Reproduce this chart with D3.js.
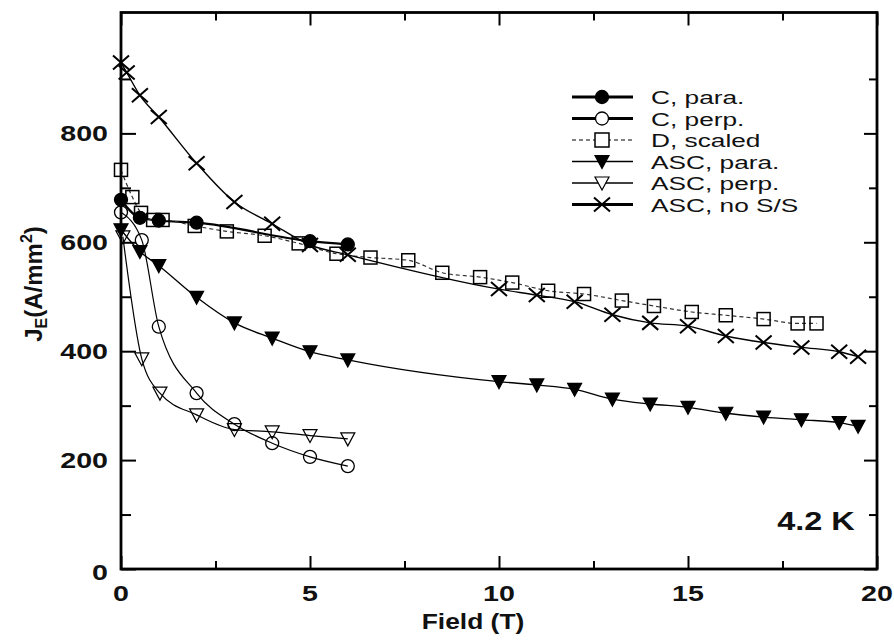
<!DOCTYPE html>
<html>
<head>
<meta charset="utf-8">
<script src="https://cdn.jsdelivr.net/npm/d3@7"></script>
<style>
  body { margin: 0; background: #fff; }
  svg text { font-family: "Liberation Sans", Arial, Helvetica, sans-serif; fill: #111; }
</style>
</head>
<body>
<svg id="chart" width="894" height="644"></svg>
<script>
// values: [field (T), J_E (A/mm2)]
const cPara = [[0, 678], [0.5, 645], [1, 640], [2, 636], [5, 602], [6, 596]]
const cPerp = [[0, 655], [0.55, 604], [1, 445], [2, 323], [3, 266], [4, 231], [5, 206], [6, 189]]
const dScaled = [[0, 733], [0.3, 683], [0.53, 654], [0.85, 641], [1.1, 641], [1.95, 630], [2.8, 620],
  [3.8, 612], [4.7, 598], [5.7, 579], [6.6, 572], [7.6, 567], [8.5, 544], [9.5, 536], [10.35, 526],
  [11.3, 511], [12.25, 505], [13.25, 493], [14.1, 483], [15.1, 472], [16, 466], [17, 459],
  [17.9, 451], [18.4, 451]]
const ascPara = [[0, 623], [0.5, 583], [1, 557], [2, 499], [3, 452], [4, 424], [5, 399], [6, 384],
  [10, 344], [11, 338], [12, 330], [13, 312], [14, 303], [15, 297], [16, 286], [17, 279],
  [18, 274], [19, 269], [19.5, 262]]
const ascPerp = [[0.05, 610], [0.55, 386], [1.03, 323], [2, 283], [3, 256], [4, 252], [5, 245], [6, 239]]
const ascNoSS = [[0, 930], [0.15, 912], [0.5, 870], [1, 830], [2, 745], [3, 674], [4, 634],
  [5, 595], [6, 577], [10, 514], [11, 503], [12, 491], [13, 467], [14, 452], [15, 446],
  [16, 428], [17, 416], [18, 407], [19, 399], [19.5, 390]]

const seriesNames = ['C, para.', 'C, perp.', 'D, scaled', 'ASC, para.', 'ASC, perp.', 'ASC, no S/S']
const xTicks = [0, 5, 10, 15, 20]
const xMinor = [2.5, 7.5, 12.5, 17.5]
const yTicks = [0, 200, 400, 600, 800]
const yMinor = [100, 300, 500, 700, 900]

const plotL = 121, plotR = 877, plotT = 12.5, plotB = 569

const x = d3.scaleLinear().domain([0, 20]).range([plotL, plotR])
const y = d3.scaleLinear().domain([0, 1022]).range([plotB, plotT])

const svg = d3.select('#chart')

// series styling
const series = [
  { name: seriesNames[0], data: cPara, marker: 'circle', fill: '#000', lw: 2.2, legLw: 3.2 },
  { name: seriesNames[1], data: cPerp, marker: 'circle', fill: 'none', lw: 1.2, legLw: 3.2 },
  { name: seriesNames[2], data: dScaled, marker: 'square', fill: 'none', lw: 1.2, legLw: 1.2, dash: '4,3' },
  { name: seriesNames[3], data: ascPara, marker: 'tri', fill: '#000', lw: 1.3, legLw: 1.5 },
  { name: seriesNames[4], data: ascPerp, marker: 'tri', fill: 'none', lw: 1.2, legLw: 1.5 },
  { name: seriesNames[5], data: ascNoSS, marker: 'cross', fill: 'none', lw: 1.4, legLw: 3.2 }
]

const line = d3.line()
  .x(d => x(d[0]))
  .y(d => y(d[1]))
  .curve(d3.curveMonotoneX)

function drawMarker(g, type, fill) {
  if (type === 'circle') {
    g.append('circle').attr('r', 6.5)
      .attr('fill', fill).attr('stroke', '#000').attr('stroke-width', 1.3)
  } else if (type === 'square') {
    g.append('rect').attr('x', -6.5).attr('y', -6.5).attr('width', 13).attr('height', 13)
      .attr('fill', fill).attr('stroke', '#000').attr('stroke-width', 1.5)
  } else if (type === 'tri') {
    g.append('path').attr('d', 'M-7,-6 L7,-6 L0,7 Z')
      .attr('fill', fill).attr('stroke', '#000').attr('stroke-width', 1.2)
  } else if (type === 'cross') {
    g.append('path').attr('d', 'M-8,-7 L8,7 M-8,7 L8,-7')
      .attr('fill', 'none').attr('stroke', '#000').attr('stroke-width', 2)
  }
}

// curves
series.forEach(s => {
  svg.append('path')
    .datum(s.data)
    .attr('d', line)
    .attr('fill', 'none')
    .attr('stroke', s.dash ? '#333' : '#000')
    .attr('stroke-width', s.lw)
    .attr('stroke-dasharray', s.dash || null)
})

// markers
series.forEach(s => {
  svg.append('g')
    .selectAll('g')
    .data(s.data)
    .join('g')
    .attr('transform', d => `translate(${x(d[0])},${y(d[1])})`)
    .each(function() { drawMarker(d3.select(this), s.marker, s.fill) })
})

// frame with inward ticks on all four sides
function tickAxis(axis, values, size, transform) {
  svg.append('g')
    .attr('transform', transform)
    .call(axis.tickValues(values).tickSize(size).tickFormat(''))
    .call(g => g.select('.domain').remove())
    .call(g => g.selectAll('line').attr('stroke', '#000').attr('stroke-width', 2))
}
tickAxis(d3.axisBottom(x), xTicks, -13, `translate(0,${plotB})`)
tickAxis(d3.axisBottom(x), xMinor, -8, `translate(0,${plotB})`)
tickAxis(d3.axisTop(x), xTicks, -13, `translate(0,${plotT})`)
tickAxis(d3.axisTop(x), xMinor, -8, `translate(0,${plotT})`)
tickAxis(d3.axisLeft(y), yTicks, -15, `translate(${plotL},0)`)
tickAxis(d3.axisLeft(y), yMinor, -10, `translate(${plotL},0)`)
tickAxis(d3.axisRight(y), yTicks, -13, `translate(${plotR},0)`)
tickAxis(d3.axisRight(y), yMinor, -8, `translate(${plotR},0)`)

svg.append('rect')
  .attr('x', plotL).attr('y', plotT)
  .attr('width', plotR - plotL).attr('height', plotB - plotT)
  .attr('fill', 'none').attr('stroke', '#000').attr('stroke-width', 2.8)

// tick labels
svg.append('g').selectAll('text')
  .data(xTicks)
  .join('text')
  .attr('transform', d => `translate(${x(d)},601) scale(1.3,1)`)
  .attr('text-anchor', 'middle')
  .style('font-size', '22px').style('font-weight', 'bold')
  .text(d => d)

svg.append('g').selectAll('text')
  .data(yTicks)
  .join('text')
  .attr('transform', d => `translate(108,${y(d) + 8 + (d === 0 ? 3 : 0)}) scale(1.3,1)`)
  .attr('text-anchor', 'end')
  .style('font-size', '22px').style('font-weight', 'bold')
  .text(d => d)

// axis titles
svg.append('text')
  .attr('transform', 'translate(473,629) scale(1.2,1)')
  .attr('text-anchor', 'middle')
  .style('font-size', '22px').style('font-weight', 'bold')
  .text('Field (T)')

const yTitle = svg.append('text')
  .attr('transform', 'translate(42,284) rotate(-90)')
  .attr('text-anchor', 'middle')
  .style('font-size', '24px').style('font-weight', 'bold')
yTitle.append('tspan').text('J')
yTitle.append('tspan').attr('dy', 5).style('font-size', '16px').text('E')
yTitle.append('tspan').attr('dy', -5).text('(A/mm')
yTitle.append('tspan').attr('dy', -10).style('font-size', '16px').text('2')
yTitle.append('tspan').attr('dy', 10).text(')')

svg.append('text')
  .attr('transform', 'translate(816,530) scale(1.3,1)')
  .attr('text-anchor', 'middle')
  .style('font-size', '25px').style('font-weight', 'bold')
  .text('4.2 K')

// legend
const legend = svg.append('g')
series.forEach((s, i) => {
  const cy = 97 + i * 21.5
  legend.append('line')
    .attr('x1', 572).attr('x2', 633).attr('y1', cy).attr('y2', cy)
    .attr('stroke', '#000').attr('stroke-width', s.legLw)
    .attr('stroke-dasharray', s.dash || null)
  const m = legend.append('g').attr('transform', `translate(602,${cy})`)
  if (s.marker === 'square') {
    m.append('rect').attr('x', -7).attr('y', -7).attr('width', 14).attr('height', 14)
      .attr('fill', '#fff').attr('stroke', '#000').attr('stroke-width', 1.5)
  } else {
    drawMarker(m, s.marker, s.fill === 'none' ? '#fff' : s.fill)
  }
  legend.append('text')
    .attr('transform', `translate(651,${cy + 7}) scale(1.42,1)`)
    .style('font-size', '18.5px')
    .text(s.name)
})
</script>
</body>
</html>
